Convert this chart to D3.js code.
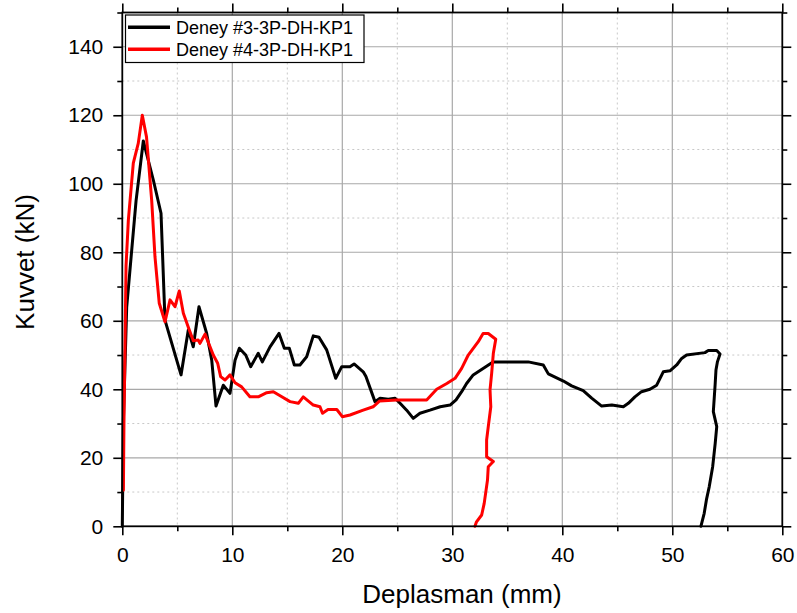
<!DOCTYPE html>
<html>
<head>
<meta charset="utf-8">
<script src="https://cdn.jsdelivr.net/npm/d3@7"></script>
<style>
  html, body { margin: 0; padding: 0; background: #fff; }
  svg { display: block; font-family: "Liberation Sans", Arial, sans-serif; }
</style>
</head>
<body>
<svg id="chart" width="797" height="613"></svg>
<script>
// ---- data ----
const seriesNames = ["Deney #3-3P-DH-KP1", "Deney #4-3P-DH-KP1"];
const seriesColors = ["#000000", "#ff0000"];

// Deney #3 : [Deplasman (mm), Kuvvet (kN)]
const deney3 = [
  [0,0],[0.1,31],[0.4,64],[1.25,95],[1.91,112.5],[2.82,101.1],[3.52,91.4],[3.88,60.2],
  [5.34,44.2],[6.0,57.3],[6.45,52.4],[6.97,64.1],[7.67,56.3],[8.13,48.5],[8.52,35.1],
  [9.18,41.2],[9.79,38.8],[10.25,48.5],[10.64,52.0],[11.22,50.0],[11.67,46.6],[12.36,50.5],
  [12.73,48.0],[13.43,52.4],[14.25,56.3],[14.73,52.0],[15.18,52.0],[15.64,47.1],[16.15,47.1],
  [16.76,49.5],[17.36,55.6],[17.88,55.2],[18.58,51.5],[19.4,43.2],[19.95,46.6],[20.7,46.6],
  [21.07,47.4],[21.9,45.1],[22.15,43.7],[22.97,36.4],[23.43,37.4],[24.18,37.1],[24.8,37.4],
  [25.25,35.9],[25.85,33.9],[26.45,31.5],[27.06,33.0],[27.97,33.9],[28.9,34.9],[29.8,35.4],
  [30.34,36.9],[30.85,39.3],[31.3,41.7],[31.9,44.2],[32.8,46.1],[33.7,48.0],[35.25,48.0],
  [36.9,48.0],[38.27,47.1],[38.73,44.5],[40.1,42.4],[40.85,41.0],[41.9,39.6],[42.67,37.4],
  [43.58,35.1],[44.5,35.4],[45.55,34.9],[46.0,35.9],[46.6,37.8],[47.2,39.3],[47.97,40.0],
  [48.58,41.2],[49.18,45.1],[49.79,45.4],[50.4,47.1],[50.85,49.0],[51.3,50.0],[52.97,50.7],
  [53.27,51.3],[54.04,51.3],[54.34,50.3],[54.1,48.0],[53.97,45.6],[53.9,41.7],[53.73,33.5],
  [54.04,29.1],[53.9,24.2],[53.67,17.4],[53.36,11.6],[53.1,7.7],[52.9,3.8],[52.6,0]
];

// Deney #4 : [Deplasman (mm), Kuvvet (kN)]
const deney4 = [
  [0.1,10.5],[0.15,30],[0.34,76],[0.55,89.4],[1.0,106],[1.45,111.8],[1.82,120],[2.2,113.7],
  [2.67,95.2],[2.97,78.7],[3.36,65.1],[3.88,59.7],[4.34,66.1],[4.79,64.1],[5.18,68.7],
  [5.55,62.2],[6.09,57.3],[6.45,54.2],[6.9,54.4],[7.06,53.4],[7.52,56.1],[8.27,50.0],
  [8.67,47.6],[8.94,43.7],[9.34,42.7],[9.79,44.2],[10.25,41.9],[10.85,40.7],[11.6,37.8],
  [12.36,37.8],[13.13,39.0],[13.73,39.3],[14.5,37.8],[15.25,36.4],[16.0,35.9],[16.45,37.8],
  [17.36,35.4],[17.97,34.9],[18.2,33.0],[18.7,34.1],[19.5,34.1],[20.0,32.0],[20.7,32.5],
  [21.9,33.9],[22.8,34.9],[23.4,36.6],[24.95,36.9],[27.67,36.9],[28.58,40.0],[29.5,41.7],
  [30.25,43.2],[30.85,46.1],[31.45,50.0],[32.36,53.9],[32.8,56.3],[33.27,56.3],[33.95,54.6],
  [33.73,50.5],[33.58,44.7],[33.43,39.8],[33.5,34.9],[33.27,29.1],[33.12,25.2],[33.12,20.3],
  [33.73,18.9],[33.27,17.4],[33.2,13.5],[32.9,6.7],[32.67,3.3],[32.2,1.3],[32.06,0]
];

const xMajorTicks = [0, 10, 20, 30, 40, 50, 60];
const xMinorTicks = [5, 15, 25, 35, 45, 55];
const yMajorTicks = [0, 20, 40, 60, 80, 100, 120, 140];
const yMinorTicks = [10, 30, 50, 70, 90, 110, 130, 150];
const xTitle = "Deplasman (mm)";
const yTitle = "Kuvvet (kN)";

// ---- layout ----
const svg = d3.select("#chart");
const L = 122.3, R = 782.3, T = 12.5, B = 526.3;
const x = d3.scaleLinear().domain([0, 60]).range([L, R]);
const y = d3.scaleLinear().domain([0, 150]).range([B, T]);

svg.append("rect").attr("width", 797).attr("height", 613).attr("fill", "#fff");

// minor grid (dotted)
const grid = svg.append("g");
grid.selectAll(".vmin").data(xMinorTicks).join("line")
  .attr("x1", d => x(d)).attr("x2", d => x(d)).attr("y1", T).attr("y2", B)
  .attr("stroke", "#c8c8c8").attr("stroke-width", 1).attr("stroke-dasharray", "2,3");
grid.selectAll(".hmin").data(yMinorTicks.filter(d => d < 150)).join("line")
  .attr("y1", d => y(d)).attr("y2", d => y(d)).attr("x1", L).attr("x2", R)
  .attr("stroke", "#c8c8c8").attr("stroke-width", 1).attr("stroke-dasharray", "2,3");
// major grid
grid.selectAll(".vmaj").data(xMajorTicks.filter(d => d > 0 && d < 60)).join("line")
  .attr("x1", d => x(d)).attr("x2", d => x(d)).attr("y1", T).attr("y2", B)
  .attr("stroke", "#a8a8a8").attr("stroke-width", 1.2);
grid.selectAll(".hmaj").data(yMajorTicks.filter(d => d > 0)).join("line")
  .attr("y1", d => y(d)).attr("y2", d => y(d)).attr("x1", L).attr("x2", R)
  .attr("stroke", "#a8a8a8").attr("stroke-width", 1.2);

// data lines
const line = d3.line().x(d => x(d[0])).y(d => y(d[1]));
[deney3, deney4].forEach((s, i) => {
  svg.append("path").datum(s).attr("d", line)
    .attr("fill", "none").attr("stroke", seriesColors[i])
    .attr("stroke-width", 3).attr("stroke-linejoin", "round").attr("stroke-linecap", "round");
});

// axes
function styleAxis(g) {
  g.select(".domain").remove();
  g.selectAll(".tick line").attr("stroke", "#000").attr("stroke-width", 1.6);
  g.selectAll("text").attr("fill", "#000").attr("font-size", "21px")
    .attr("font-family", '"Liberation Sans", Arial, sans-serif');
}
const axB = svg.append("g").attr("transform", `translate(0,${B})`)
  .call(d3.axisBottom(x).tickValues(xMajorTicks).tickSize(9).tickPadding(12).tickFormat(d3.format("d")));
styleAxis(axB);
const axBm = svg.append("g").attr("transform", `translate(0,${B})`)
  .call(d3.axisBottom(x).tickValues(xMinorTicks).tickSize(5).tickFormat(""));
styleAxis(axBm);
const axT = svg.append("g").attr("transform", `translate(0,${T})`)
  .call(d3.axisTop(x).tickValues(xMajorTicks).tickSize(9).tickFormat(""));
styleAxis(axT);
const axTm = svg.append("g").attr("transform", `translate(0,${T})`)
  .call(d3.axisTop(x).tickValues(xMinorTicks).tickSize(5).tickFormat(""));
styleAxis(axTm);

const axL = svg.append("g").attr("transform", `translate(${L},0)`)
  .call(d3.axisLeft(y).tickValues(yMajorTicks).tickSize(9).tickPadding(10).tickFormat(d3.format("d")));
styleAxis(axL);
const axLm = svg.append("g").attr("transform", `translate(${L},0)`)
  .call(d3.axisLeft(y).tickValues(yMinorTicks).tickSize(5).tickFormat(""));
styleAxis(axLm);
const axR = svg.append("g").attr("transform", `translate(${R},0)`)
  .call(d3.axisRight(y).tickValues(yMajorTicks).tickSize(9).tickFormat(""));
styleAxis(axR);
const axRm = svg.append("g").attr("transform", `translate(${R},0)`)
  .call(d3.axisRight(y).tickValues(yMinorTicks).tickSize(5).tickFormat(""));
styleAxis(axRm);

// frame
svg.append("rect").attr("x", L).attr("y", T).attr("width", R - L).attr("height", B - T)
  .attr("fill", "none").attr("stroke", "#000").attr("stroke-width", 1.8);

// titles
svg.append("text").attr("x", 462).attr("y", 603).attr("text-anchor", "middle")
  .attr("font-size", "26px").attr("fill", "#000").text(xTitle);
svg.append("text").attr("transform", "translate(34,262) rotate(-90)").attr("text-anchor", "middle")
  .attr("font-size", "26px").attr("fill", "#000").text(yTitle);

// legend
const lg = svg.append("g");
lg.append("rect").attr("x", 125.5).attr("y", 15).attr("width", 238.5).attr("height", 47.5)
  .attr("fill", "#fff").attr("stroke", "#000").attr("stroke-width", 1.2);
seriesNames.forEach((n, i) => {
  const yy = 27.3 + i * 22;
  lg.append("line").attr("x1", 128).attr("x2", 170).attr("y1", yy).attr("y2", yy)
    .attr("stroke", seriesColors[i]).attr("stroke-width", 3.5);
  lg.append("text").attr("x", 176).attr("y", yy + 6.3).attr("font-size", "18px")
    .attr("fill", "#000").text(n);
});
</script>
</body>
</html>
